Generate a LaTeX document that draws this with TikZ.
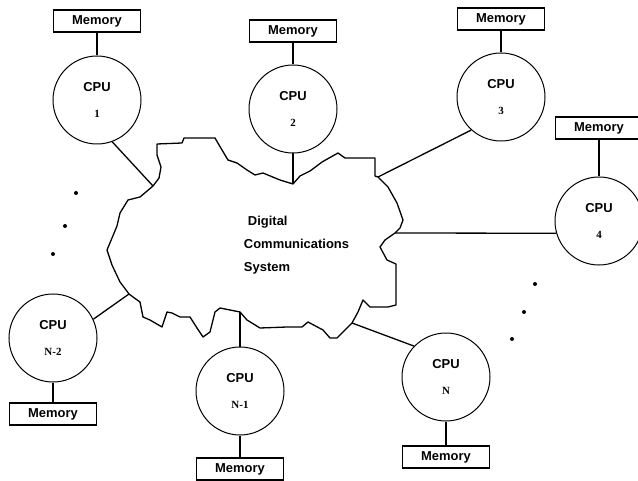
\documentclass[tikz,border=0pt]{standalone}
\usepackage{fontspec}
\setmainfont{Liberation Sans}
\newfontfamily\numfont{Liberation Serif}
\newcommand{\cpunum}[1]{CPU\\[12pt]{\numfont\bfseries\fontsize{11}{12}\selectfont #1}}
\begin{document}
\begin{tikzpicture}[x=1bp,y=-1bp,line width=1.3bp,
  cpu/.style={circle,draw,line width=1bp,minimum size=88bp,inner sep=0pt,align=center,font=\fontsize{13}{15}\selectfont\bfseries},
  mem/.style={rectangle,draw,minimum width=87bp,minimum height=22bp,inner sep=0pt,font=\fontsize{13}{15}\selectfont\bfseries}]
\useasboundingbox (0,0) rectangle (638,481);
\draw[line join=round] (157,144) -- (182,143) -- (184,138) -- (215,138) -- (222,150) -- (228,160) -- (237,163) -- (247,170) -- (255,175) -- (263,173) -- (280,180) -- (293,184) coordinate (j2) -- (300,176) -- (310,171) -- (322,162) -- (338,153) -- (345,158) -- (375,158) -- (375,176) -- (378,177) coordinate (j3) -- (388,187) -- (397,203) -- (403,220) -- (400,228) -- (395,233) coordinate (j4) -- (385,240) -- (380,247) -- (387,260) -- (396,264) -- (396,305) -- (388,307) -- (370,307) -- (363,300) -- (358,312) -- (352,323) coordinate (jn) -- (337,338) -- (330,338) -- (323,330) -- (308,322) -- (302,327) -- (287,327) -- (260,328) -- (247,320) -- (240,312) coordinate (jn1) -- (220,308) -- (215,312) -- (210,332) -- (203,337) -- (197,328) -- (190,317) -- (180,317) -- (172,313) -- (167,312) -- (162,327) -- (150,320) -- (143,317) -- (140,302) -- (133,297) -- (129,294) coordinate (jn2) -- (120,282) -- (112,265) -- (107,250) -- (112,238) -- (117,226) -- (120,213) -- (128,200) -- (140,197) -- (153,186) coordinate (j1) -- (159,178) -- (161,167) -- (157,155) -- cycle;
\node[anchor=west,align=left,font=\fontsize{13}{23}\selectfont\bfseries] (dcs) at (240,245) {\hspace{4bp}Digital\\Communications\\System};
\node[cpu] (cpu1) at (97,100) {\cpunum{1}};
\node[cpu] (cpu2) at (293,109) {\cpunum{2}};
\node[cpu] (cpu3) at (501,97) {\cpunum{3}};
\node[cpu] (cpu4) at (599,221) {\cpunum{4}};
\node[cpu] (cpun2) at (53,338) {\cpunum{N-2}};
\node[cpu] (cpun1) at (240,391) {\cpunum{N-1}};
\node[cpu] (cpun) at (446,377) {\cpunum{N}};
\node[mem] (mem1) at (97,21) {Memory};
\node[mem] (mem2) at (293,31) {Memory};
\node[mem] (mem3) at (501,19) {Memory};
\node[mem] (mem4) at (599,128) {Memory};
\node[mem] (memn2) at (53,414) {Memory};
\node[mem] (memn1) at (240,469) {Memory};
\node[mem] (memn) at (446,457) {Memory};
\draw (mem1) -- (cpu1);
\draw (mem2) -- (cpu2);
\draw (mem3) -- (cpu3);
\draw (mem4) -- (cpu4);
\draw (cpun2) -- (memn2);
\draw (cpun1) -- (memn1);
\draw (cpun) -- (memn);
\draw (cpu1.290) -- (j1);
\draw (cpu2) -- (j2);
\draw (cpu3.228) -- (j3);
\draw (cpu4.196) -- (j4);
\draw (cpun2.25) -- (jn2);
\draw (cpun1) -- (jn1);
\draw (cpun.136) -- (jn);
\fill (76,193) circle (2bp) (65,226) circle (2bp) (53,254) circle (2bp);
\fill (535,284) circle (2bp) (524,312) circle (2bp) (512,339) circle (2bp);
\end{tikzpicture}
\end{document}
